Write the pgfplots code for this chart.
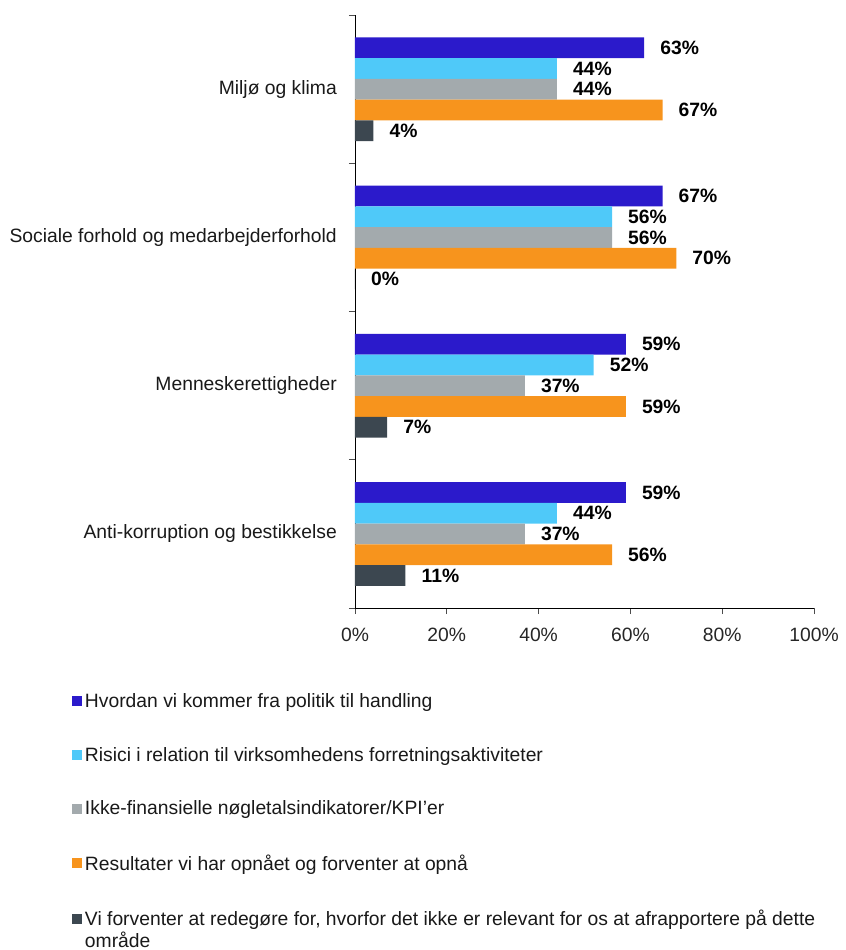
\documentclass[border=0pt]{standalone}
\usepackage{pgfplots}
\pgfplotsset{compat=1.18}
\usepackage{fontspec}
\setmainfont{Liberation Sans}
\definecolor{cA}{HTML}{2B1ACB}
\definecolor{cB}{HTML}{4FC9F9}
\definecolor{cC}{HTML}{A3AAAD}
\definecolor{cD}{HTML}{F7941D}
\definecolor{cE}{HTML}{3C4750}
\begin{document}
\fontsize{19pt}{22pt}\selectfont
\begin{tikzpicture}
\begin{axis}[name=ax,
  scale only axis, width=459pt, height=593pt,
  xbar=0pt, bar width=20.75pt,
  y dir=reverse, ymin=-0.5, ymax=3.5,
  xmin=0, xmax=100,
  xtick={0,20,40,60,80,100},
  xticklabel={\pgfmathprintnumber{\tick}\%},
  xticklabel style={yshift=-7pt, text=black!85},
  /pgf/number format/assume math mode=true,
  ytick={-0.5,0.5,1.5,2.5,3.5},
  yticklabels={,,,,},
  extra y ticks={0,1,2,3},
  extra y tick labels={Miljø og klima, Sociale forhold og medarbejderforhold, Menneskerettigheder, Anti-korruption og bestikkelse},
  extra y tick style={major tick length=0pt, yticklabel style={inner xsep=0pt, xshift=-18pt, text=black!90}},
  tick align=outside, major tick length=6pt,
  tick style={black!70, line width=0.8pt},
  axis x line*=bottom, axis y line*=left,
  axis line style={-, black, line width=0.8pt},
  ticklabel style={font=\fontsize{19.3pt}{22pt}\selectfont},
  point meta=x,
  nodes near coords={\pgfmathprintnumber{\pgfplotspointmeta}\%},
  nodes near coords style={font=\fontsize{19.3pt}{22pt}\selectfont\bfseries, anchor=west, inner xsep=0pt, xshift=16pt, text=black},
  clip=false,
  legend image code/.code={\fill[#1, draw=none] (0pt,-4.5pt) rectangle (10pt,5.5pt);},
  legend style={at={(-0.617,-0.14)}, anchor=north west, draw=none, fill=none,
    legend cell align=left, row sep=33pt, inner sep=0pt,
    font=\fontsize{19.3pt}{22pt}\selectfont,
    nodes={inner xsep=3pt, inner ysep=2pt, text=black!90}},
]
\addplot[fill=cA, draw=none, bar shift=41.5pt] coordinates {(63,0) (67,1) (59,2) (59,3)};
\addplot[fill=cB, draw=none, bar shift=20.75pt] coordinates {(44,0) (56,1) (52,2) (44,3)};
\addplot[fill=cC, draw=none, bar shift=0pt] coordinates {(44,0) (56,1) (37,2) (37,3)};
\addplot[fill=cD, draw=none, bar shift=-20.75pt] coordinates {(67,0) (70,1) (59,2) (56,3)};
\addplot[fill=cE, draw=none, bar shift=-41.5pt] coordinates {(4,0) (0,1) (7,2) (11,3)};
\legend{Hvordan vi kommer fra politik til handling,
  Risici i relation til virksomhedens forretningsaktiviteter,
  Ikke-finansielle nøgletalsindikatorer/KPI’er,
  Resultater vi har opnået og forventer at opnå,
  \parbox[t]{740pt}{\fontsize{19.3pt}{21.5pt}\selectfont Vi forventer at redegøre for, hvorfor det ikke er relevant for os at afrapportere på dette\\område}}
\end{axis}
\path ([shift={(-355pt,-342pt)}]ax.south west) rectangle ([shift={(26pt,15pt)}]ax.north east);
\end{tikzpicture}
\end{document}
